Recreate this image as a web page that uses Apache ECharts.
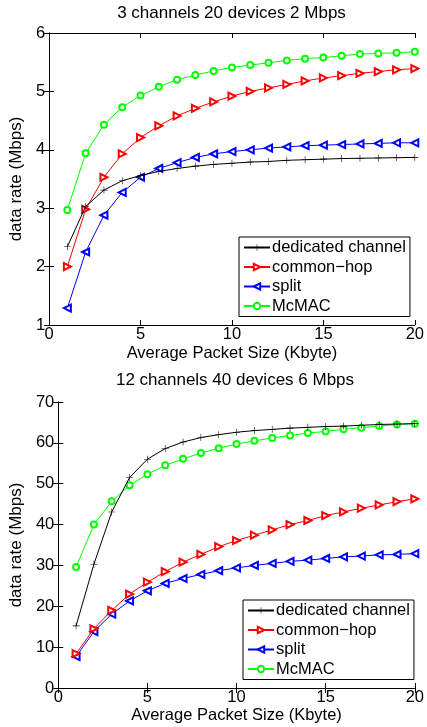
<!DOCTYPE html>
<html><head><meta charset="utf-8">
<script src="https://cdn.jsdelivr.net/npm/echarts@6/dist/echarts.min.js"></script>
<style>html,body{margin:0;padding:0;background:#fff}#c{width:427px;height:727px}</style>
</head><body><div id="c"></div>
<script>
const packetSizes = [1,2,3,4,5,6,7,8,9,10,11,12,13,14,15,16,17,18,19,20];
const seriesNames = ['dedicated channel','common\u2212hop','split','McMAC'];
const titles = ['3 channels 20 devices 2 Mbps','12 channels 40 devices 6 Mbps'];
const xTicks = [0,5,10,15,20];
const yTicksTop = [1,2,3,4,5,6];
const yTicksBottom = [0,10,20,30,40,50,60,70];

// Top panel
const topDedicated = [2.34,3.03,3.31,3.47,3.56,3.63,3.68,3.72,3.75,3.77,3.79,3.80,3.82,3.83,3.84,3.85,3.855,3.86,3.865,3.87];
const topCommonHop = [2.0,2.98,3.53,3.93,4.21,4.41,4.58,4.71,4.82,4.92,5.0,5.06,5.12,5.18,5.23,5.27,5.31,5.34,5.37,5.39];
const topSplit = [1.29,2.25,2.88,3.27,3.53,3.68,3.78,3.87,3.93,3.97,4.0,4.03,4.05,4.07,4.08,4.09,4.10,4.11,4.12,4.12];
const topMcMAC = [2.97,3.94,4.43,4.73,4.93,5.08,5.2,5.28,5.35,5.41,5.45,5.49,5.53,5.56,5.58,5.61,5.64,5.65,5.66,5.68];

// Bottom panel
const botDedicated = [15.2,30.3,43.1,51.5,56.0,58.6,60.2,61.3,62.0,62.6,63.0,63.3,63.6,63.8,64.0,64.1,64.3,64.5,64.6,64.7];
const botCommonHop = [8.4,14.5,19.0,23.0,25.9,28.5,30.8,32.7,34.6,36.1,37.4,38.7,40.0,41.0,42.2,43.1,44.0,44.8,45.6,46.3];
const botSplit = [7.7,13.8,18.1,21.3,23.8,25.6,26.8,27.8,28.7,29.4,30.0,30.5,31.0,31.3,31.7,32.1,32.3,32.6,32.7,32.9];
const botMcMAC = [29.6,40.0,45.7,49.6,52.3,54.5,56.1,57.5,58.7,59.7,60.5,61.2,61.8,62.4,62.8,63.3,63.7,64.1,64.5,64.7];

const FONT = 'Liberation Sans';
const colors = ['#000000','#ff0000','#0000ff','#00ff00'];
const symbols = ['path://M4.6,0h0.8v10h-0.8zM0,4.6h10v0.8h-10z','emptyTriangle','emptyTriangle','emptyCircle'];
const rotates = [0,-90,90,0];
const sizes = [7,7,7,6];

const chart = echarts.init(document.getElementById('c'), null, {renderer:'canvas'});

function mkSeries(values, idx, gi){
  return {
    type:'line', name: seriesNames[idx], xAxisIndex: gi*2, yAxisIndex: gi*2,
    data: packetSizes.map((x,i)=>[x, values[i]]),
    symbol: symbols[idx], symbolRotate: rotates[idx], symbolSize: sizes[idx],
    showAllSymbol: true, animation:false,
    lineStyle:{color: colors[idx], width:1},
    itemStyle:{color: colors[idx], borderWidth: 0.9},
    z: 10 - idx
  };
}
function xAxes(gi){
  const base = {type:'value', gridIndex: gi, min:0, max:20, interval:5,
    axisLine:{show:true, lineStyle:{color:'#000', width:1}},
    axisTick:{show:true, inside:true, length:5, lineStyle:{color:'#000'}},
    splitLine:{show:false}};
  return [
    Object.assign({}, base, {position:'bottom',
      axisLabel:{show:true, color:'#000', fontFamily:FONT, fontSize:16.5, margin:1},
      name:'Average Packet Size (Kbyte)', nameLocation:'middle', nameGap: gi===0?20:18,
      nameTextStyle:{color:'#000', fontFamily:FONT, fontSize:16.5}}),
    Object.assign({}, base, {position:'top', axisLabel:{show:false}})
  ];
}
function yAxes(gi, min, max, interval){
  const base = {type:'value', gridIndex: gi, min:min, max:max, interval:interval,
    axisLine:{show:true, lineStyle:{color:'#000', width:1}},
    axisTick:{show:true, inside:true, length:5, lineStyle:{color:'#000'}},
    splitLine:{show:false}};
  return [
    Object.assign({}, base, {position:'left',
      axisLabel:{show:true, color:'#000', fontFamily:FONT, fontSize:16.5, margin:4},
      name:'data rate (Mbps)', nameLocation:'middle', nameGap: gi===0?16:24,
      nameTextStyle:{color:'#000', fontFamily:FONT, fontSize:17}}),
    Object.assign({}, base, {position:'right', axisLabel:{show:false}})
  ];
}
function mkLegend(gi, left, top){
  return {
    show:true, orient:'vertical', left:left, top:top,
    data: seriesNames,
    backgroundColor:'#fff', borderColor:'#000', borderWidth:1, borderRadius:0,
    padding:[2,4,2,4], itemGap:2.5, itemWidth:26, itemHeight:8,
    textStyle:{color:'#000', fontFamily:FONT, fontSize:16.5, lineHeight:17, padding:[0,0,0,-3]},
    selectedMode:false
  };
}

const option = {
  backgroundColor:'#fff',
  animation:false,
  title:[
    {text:titles[0], left:231.5, top:5, textAlign:'center', padding:0,
     textStyle:{color:'#000', fontFamily:FONT, fontSize:17, fontWeight:'normal'}},
    {text:titles[1], left:235, top:372, textAlign:'center', padding:0,
     textStyle:{color:'#000', fontFamily:FONT, fontSize:17, fontWeight:'normal'}}
  ],
  grid:[
    {left:45, top:33, width:373, height:292},
    {left:52, top:402, width:366, height:286}
  ],
  xAxis: xAxes(0).concat(xAxes(1)),
  yAxis: yAxes(0,1,6,1).concat(yAxes(1,0,70,10)),
  legend:[mkLegend(0,239,237), mkLegend(1,243,600)],
  series:[
    mkSeries(topDedicated,0,0), mkSeries(topCommonHop,1,0), mkSeries(topSplit,2,0), mkSeries(topMcMAC,3,0),
    mkSeries(botDedicated,0,1), mkSeries(botCommonHop,1,1), mkSeries(botSplit,2,1), mkSeries(botMcMAC,3,1)
  ]
};
chart.setOption(option);
</script></body></html>
